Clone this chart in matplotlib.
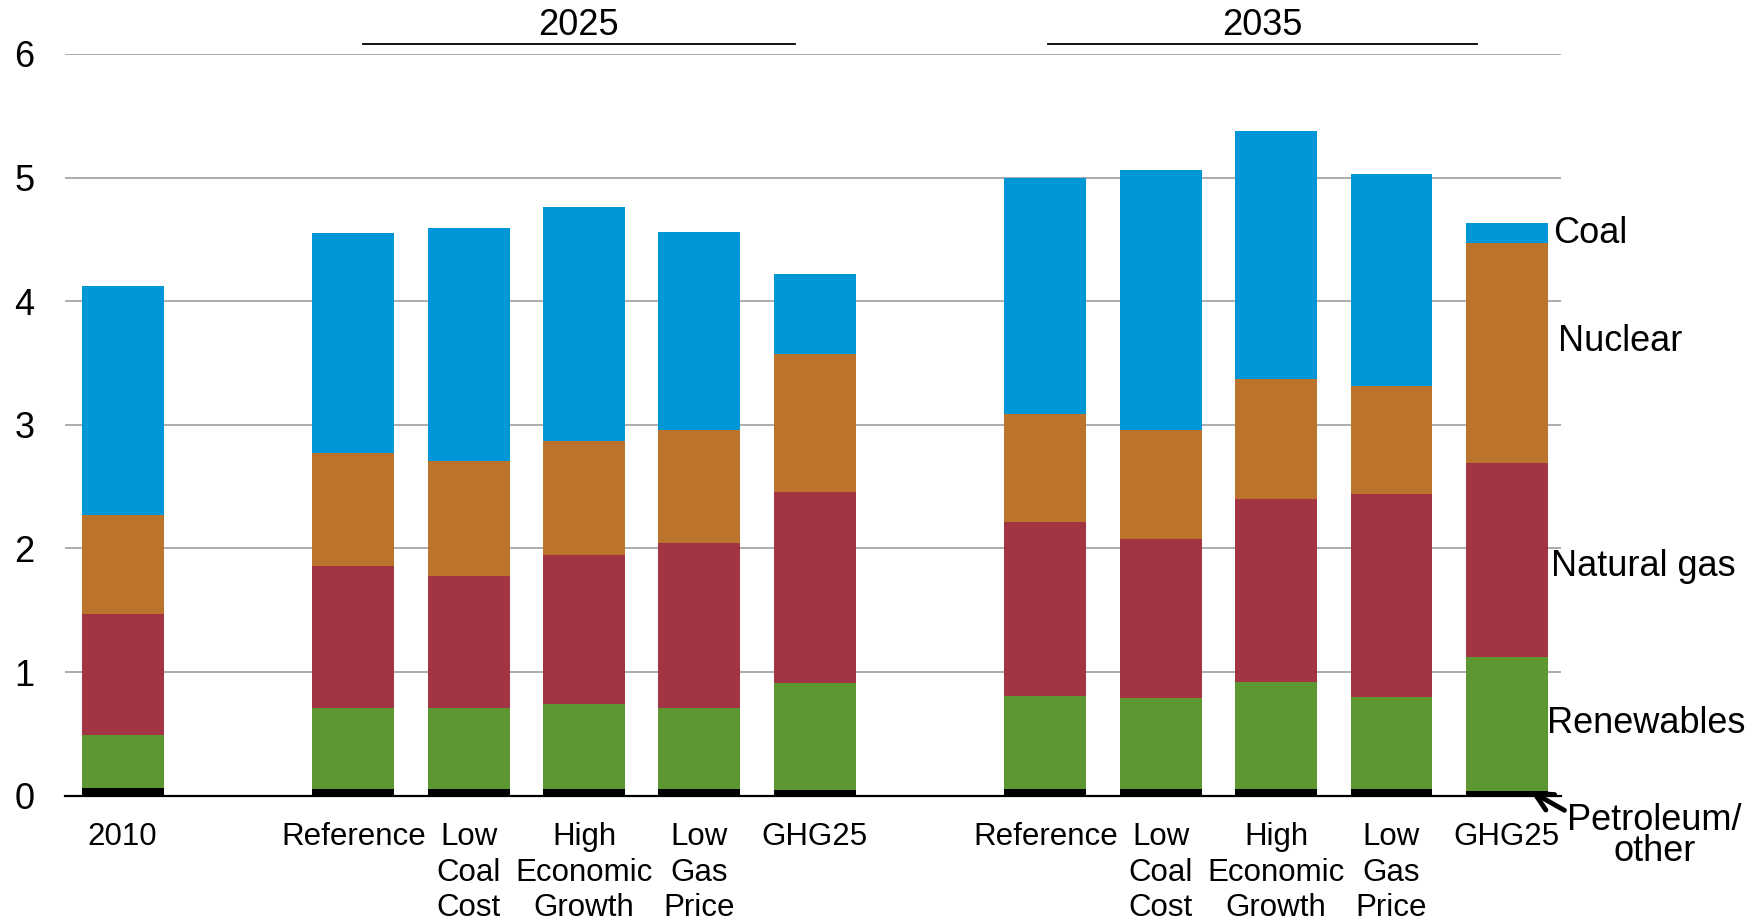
import matplotlib
matplotlib.use("Agg")
import matplotlib.pyplot as plt
import numpy as np

plt.rcParams["font.family"] = ["Liberation Sans", "DejaVu Sans"]

# 数据
labels = ["2010",
          "Reference", "Low\nCoal\nCost", "High\nEconomic\nGrowth", "Low\nGas\nPrice", "GHG25",
          "Reference", "Low\nCoal\nCost", "High\nEconomic\nGrowth", "Low\nGas\nPrice", "GHG25"]
petroleum = [0.06, 0.05, 0.05, 0.055, 0.05, 0.045, 0.05, 0.05, 0.05, 0.05, 0.04]
renewables = [0.43, 0.66, 0.66, 0.685, 0.66, 0.865, 0.76, 0.74, 0.87, 0.75, 1.08]
natural_gas = [0.98, 1.15, 1.07, 1.21, 1.33, 1.55, 1.40, 1.29, 1.48, 1.64, 1.57]
nuclear = [0.80, 0.91, 0.93, 0.92, 0.92, 1.11, 0.88, 0.88, 0.97, 0.87, 1.78]
coal = [1.85, 1.78, 1.88, 1.89, 1.60, 0.65, 1.91, 2.10, 2.01, 1.72, 0.16]
years = ["2025", "2035"]

series = [("Petroleum/\nother", petroleum, "#000000"),
          ("Renewables", renewables, "#5D9732"),
          ("Natural gas", natural_gas, "#A33443"),
          ("Nuclear", nuclear, "#BC732B"),
          ("Coal", coal, "#0097D8")]

x = np.array([0, 2, 3, 4, 5, 6, 8, 9, 10, 11, 12])

fig = plt.figure(figsize=(17.55, 9.23), dpi=100)
ax = fig.add_axes([0.037, 0.138, 0.8525, 0.8035])

bottom = np.zeros(len(x))
for name, vals, color in series:
    ax.bar(x, vals, width=0.71, bottom=bottom, color=color, zorder=2)
    bottom += np.array(vals)

ax.set_xlim(-0.5, 12.47)
ax.set_ylim(0, 6)
ax.set_yticks(range(7))
ax.yaxis.grid(True, color="#A6A6A6", linewidth=1.3, zorder=0)
for s in ["top", "right", "left"]:
    ax.spines[s].set_visible(False)
ax.spines["bottom"].set_linewidth(1.6)
ax.spines["bottom"].set_zorder(3)
ax.tick_params(axis="y", length=0, pad=22, labelsize=26)
ax.tick_params(axis="x", length=0, pad=19, labelsize=22.5)
ax.set_xticks(x)
ax.set_xticklabels(labels, linespacing=1.24, va="top", ha="center")

# 年份标题
for yr, (x0, x1) in zip(years, [(2.08, 5.83), (8.02, 11.74)]):
    ax.plot([x0, x1], [6.08, 6.08], color="black", lw=1.3, clip_on=False)
    ax.text((x0 + x1) / 2, 6.23, yr, ha="center", va="center", fontsize=26)

# 右侧标签
ax.text(12.4, 4.55, "Coal", fontsize=26, va="center", ha="left")
ax.text(12.44, 3.67, "Nuclear", fontsize=26, va="center", ha="left")
ax.text(12.38, 1.85, "Natural gas", fontsize=26, va="center", ha="left")
ax.text(12.35, 0.58, "Renewables", fontsize=26, va="center", ha="left")
ax.text(13.28, -0.33, "Petroleum/\nother", fontsize=26, va="center", ha="center",
        linespacing=0.85)
ax.annotate("", xy=(12.18, 0.05), xytext=(12.52, -0.13),
            arrowprops=dict(arrowstyle="->", lw=3.5, color="black",
                            mutation_scale=32),
            annotation_clip=False)

fig.savefig("out.png", dpi=100)
